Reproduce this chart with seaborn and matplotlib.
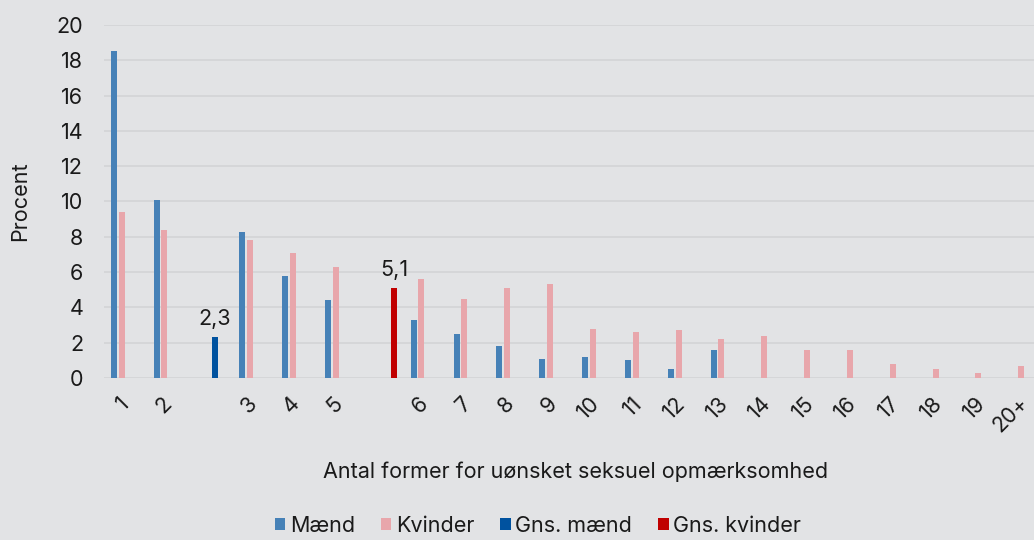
import matplotlib
matplotlib.use("Agg")
import matplotlib.pyplot as plt
import seaborn as sns
import pandas as pd
import numpy as np
from matplotlib.patches import Patch

# ---- data ----
categories = ["1", "2", "gns_m", "3", "4", "5", "gns_k", "6", "7", "8", "9", "10",
              "11", "12", "13", "14", "15", "16", "17", "18", "19", "20+"]
tick_labels = ["1", "2", "", "3", "4", "5", "", "6", "7", "8", "9", "10",
               "11", "12", "13", "14", "15", "16", "17", "18", "19", "20+"]
maend = [18.5, 10.1, None, 8.3, 5.8, 4.4, None, 3.3, 2.5, 1.8, 1.1, 1.2,
         1.0, 0.5, 1.6, None, None, None, None, None, None, None]
kvinder = [9.4, 8.4, None, 7.8, 7.1, 6.3, None, 5.6, 4.5, 5.1, 5.3, 2.8,
           2.6, 2.7, 2.2, 2.4, 1.6, 1.6, 0.8, 0.5, 0.3, 0.7]
gns_maend_cat = "gns_m"
gns_maend = 2.3
gns_kvinder_cat = "gns_k"
gns_kvinder = 5.1
series = ["Mænd", "Kvinder", "Gns. mænd", "Gns. kvinder"]
colors = ["#4681B7", "#E8A6AB", "#00529F", "#C00000"]

rows = []
for c, m, k in zip(categories, maend, kvinder):
    if m is not None:
        rows.append((c, series[0], m))
    if k is not None:
        rows.append((c, series[1], k))
rows.append((gns_maend_cat, series[2], gns_maend))
rows.append((gns_kvinder_cat, series[3], gns_kvinder))
df = pd.DataFrame(rows, columns=["kategori", "serie", "procent"])

# ---- style ----
bg = "#E2E3E5"
fs = 15.5
sns.set_theme(style="white")
plt.rcParams["font.family"] = ["Inter", "DejaVu Sans"]
plt.rcParams["text.color"] = "#1A1A1A"

fig = plt.figure(figsize=(10.34, 5.40), dpi=100, facecolor=bg)
ax = fig.add_axes([104 / 1034, 1 - 378 / 540, 942.6 / 1034, 353 / 540])
ax.set_facecolor(bg)

sns.barplot(data=df, x="kategori", y="procent", hue="serie", order=categories,
            hue_order=series, palette=colors, width=0.72, gap=0.22,
            saturation=1, errorbar=None, ax=ax, legend=False, linewidth=0)

ax.set_ylim(0, 20)
ax.set_xlim(-0.5, len(categories) - 0.5)
ax.set_yticks(np.arange(0, 21, 2))
ax.yaxis.grid(True, color="#D3D4D6", linewidth=1.2)
ax.set_axisbelow(True)
for s in ax.spines.values():
    s.set_visible(False)

ax.set_xticks(range(len(categories)))
ax.set_xticklabels(tick_labels, rotation=45, ha="right", va="center",
                   rotation_mode="anchor")
ax.tick_params(axis="x", length=0, pad=16, labelsize=fs, labelcolor="#1A1A1A")
ax.tick_params(axis="y", length=0, pad=15, labelsize=fs, labelcolor="#1A1A1A")

ax.set_ylabel("Procent", fontsize=fs, labelpad=19, color="#1A1A1A")
ax.set_xlabel("Antal former for uønsket seksuel opmærksomhed", fontsize=fs,
              labelpad=18, color="#1A1A1A")

# value labels for averages
for cont in ax.containers[2:]:
    ax.bar_label(cont, labels=[f"{b.get_height():.1f}".replace(".", ",") for b in cont],
                 padding=6, fontsize=fs, color="#1A1A1A")

handles = [Patch(facecolor=c, edgecolor="none") for c in colors]
fig.legend(handles, series, loc="center", bbox_to_anchor=(0.52, 0.026), ncol=4,
           frameon=False, fontsize=fs, handlelength=0.5, handleheight=0.5,
           handletextpad=0.2, columnspacing=1.2, borderpad=0)

fig.savefig("out.png", dpi=100, facecolor=bg)
